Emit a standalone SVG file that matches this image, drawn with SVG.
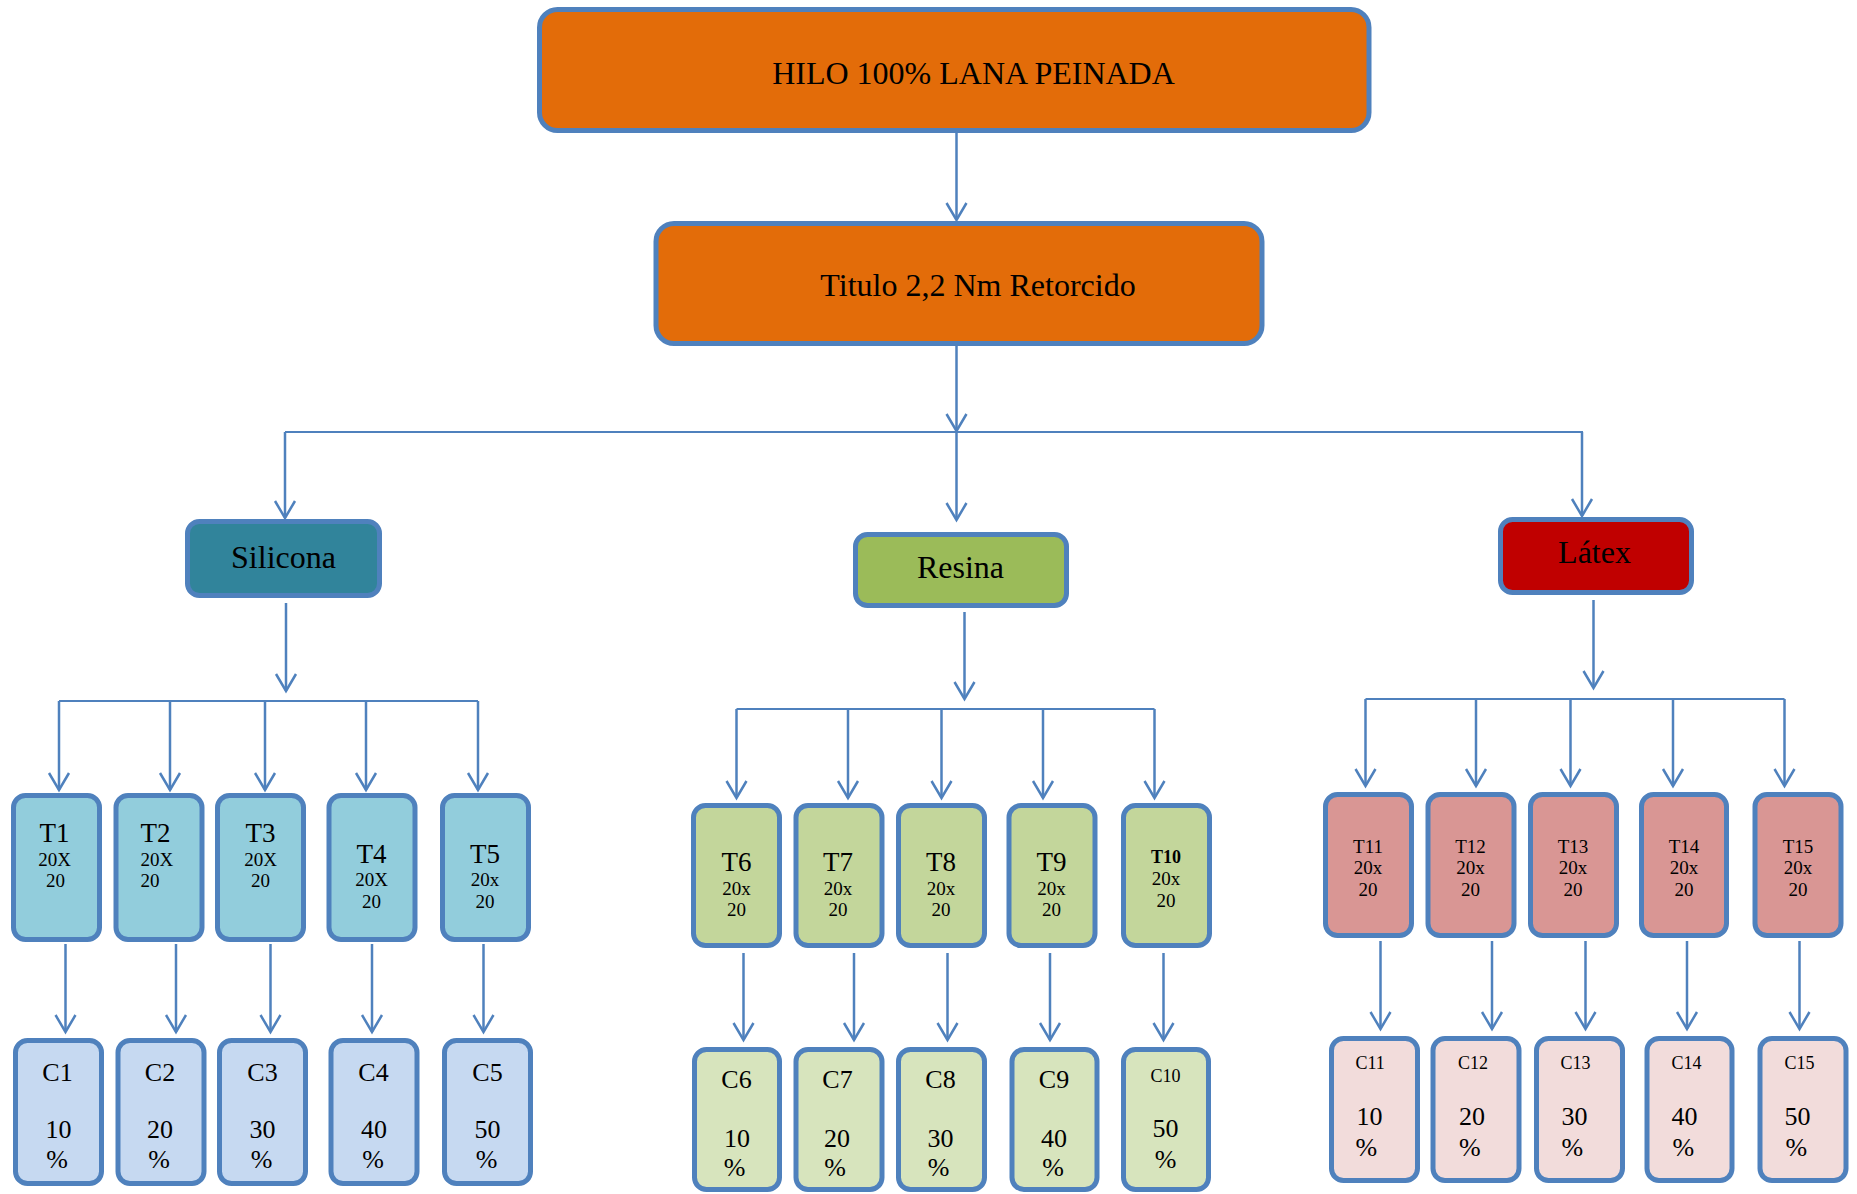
<svg xmlns="http://www.w3.org/2000/svg" width="1857" height="1194" viewBox="0 0 1857 1194">
  <style>
    .box { stroke: #4F81BD; stroke-width: 5; }
    .orange { fill: #E36C09; }
    .sil { fill: #31849B; }
    .res { fill: #9BBB59; }
    .lat { fill: #C00000; }
    .t-blue { fill: #92CDDC; }
    .c-blue { fill: #C6D9F1; }
    .t-green { fill: #C3D69B; }
    .c-green { fill: #D7E4BD; }
    .t-red { fill: #D99694; }
    .c-red { fill: #F2DCDB; }
    text { font-family: "Liberation Serif", "Times New Roman", serif; fill: #000; text-anchor: middle; }
    .big { font-size: 32px; }
    .tt { font-size: 27px; }
    .ts { font-size: 19px; }
    .cc { font-size: 26px; }
    .cs { font-size: 18px; }
    .tb { font-size: 18px; font-weight: bold; }
    .left { text-anchor: start; }
    .wire { fill: none; stroke: #4F81BD; stroke-width: 2.5; }
    .bus { fill: none; stroke: #4F81BD; stroke-width: 2; }
  </style>
  <defs>
    <marker id="vhead" markerUnits="userSpaceOnUse" markerWidth="40" markerHeight="40" refX="0" refY="0" orient="auto" overflow="visible" viewBox="-20 -20 40 40">
      <path d="M-17,-10 L0,0 L-17,10" fill="none" stroke="#4F81BD" stroke-width="2.5"/>
    </marker>
  </defs>

  <!-- connectors -->
  <g id="connectors">
    <path class="wire" d="M956.5,133 V220" marker-end="url(#vhead)"/>
    <path class="wire" d="M956.5,346 V431" marker-end="url(#vhead)"/>
    <path class="bus" d="M285,432 H1583"/>
    <path class="wire" d="M285,432 V518" marker-end="url(#vhead)"/>
    <path class="wire" d="M956.5,432 V520" marker-end="url(#vhead)"/>
    <path class="wire" d="M1582,432 V516" marker-end="url(#vhead)"/>

    <!-- Silicona branch -->
    <path class="wire" d="M286,603 V691" marker-end="url(#vhead)"/>
    <path class="bus" d="M59,701 H478"/>
    <path class="wire" d="M59,701 V790" marker-end="url(#vhead)"/>
    <path class="wire" d="M170,701 V790" marker-end="url(#vhead)"/>
    <path class="wire" d="M265,701 V790" marker-end="url(#vhead)"/>
    <path class="wire" d="M366,701 V790" marker-end="url(#vhead)"/>
    <path class="wire" d="M478,701 V790" marker-end="url(#vhead)"/>
    <path class="wire" d="M65.5,944 V1032" marker-end="url(#vhead)"/>
    <path class="wire" d="M176,944 V1032" marker-end="url(#vhead)"/>
    <path class="wire" d="M270.5,944 V1032" marker-end="url(#vhead)"/>
    <path class="wire" d="M372,944 V1032" marker-end="url(#vhead)"/>
    <path class="wire" d="M483.5,944 V1032" marker-end="url(#vhead)"/>

    <!-- Resina branch -->
    <path class="wire" d="M964.5,612 V699" marker-end="url(#vhead)"/>
    <path class="bus" d="M736.5,709 H1154.5"/>
    <path class="wire" d="M736.5,709 V798" marker-end="url(#vhead)"/>
    <path class="wire" d="M848,709 V798" marker-end="url(#vhead)"/>
    <path class="wire" d="M941.5,709 V798" marker-end="url(#vhead)"/>
    <path class="wire" d="M1043,709 V798" marker-end="url(#vhead)"/>
    <path class="wire" d="M1154.5,709 V798" marker-end="url(#vhead)"/>
    <path class="wire" d="M743.5,953 V1040" marker-end="url(#vhead)"/>
    <path class="wire" d="M854,953 V1040" marker-end="url(#vhead)"/>
    <path class="wire" d="M947.5,953 V1040" marker-end="url(#vhead)"/>
    <path class="wire" d="M1050,953 V1040" marker-end="url(#vhead)"/>
    <path class="wire" d="M1163.5,953 V1040" marker-end="url(#vhead)"/>

    <!-- Látex branch -->
    <path class="wire" d="M1593.5,600 V688" marker-end="url(#vhead)"/>
    <path class="bus" d="M1365.5,699 H1784.5"/>
    <path class="wire" d="M1365.5,699 V786" marker-end="url(#vhead)"/>
    <path class="wire" d="M1476,699 V786" marker-end="url(#vhead)"/>
    <path class="wire" d="M1570.5,699 V786" marker-end="url(#vhead)"/>
    <path class="wire" d="M1673,699 V786" marker-end="url(#vhead)"/>
    <path class="wire" d="M1784.5,699 V786" marker-end="url(#vhead)"/>
    <path class="wire" d="M1380.5,941 V1029" marker-end="url(#vhead)"/>
    <path class="wire" d="M1492,941 V1029" marker-end="url(#vhead)"/>
    <path class="wire" d="M1585.5,941 V1029" marker-end="url(#vhead)"/>
    <path class="wire" d="M1687,941 V1029" marker-end="url(#vhead)"/>
    <path class="wire" d="M1799.5,941 V1029" marker-end="url(#vhead)"/>
  </g>

  <!-- top levels -->
  <g id="hilo">
    <rect class="box orange" x="539.5" y="9.5" width="829.5" height="121" rx="18"/>
    <text class="big" x="973.5" y="84">HILO 100% LANA PEINADA</text>
  </g>
  <g id="titulo">
    <rect class="box orange" x="656" y="223.5" width="606" height="120" rx="18"/>
    <text class="big" x="978" y="296">Titulo 2,2 Nm Retorcido</text>
  </g>
  <g id="silicona">
    <rect class="box sil" x="187.5" y="521.5" width="192" height="74" rx="12"/>
    <text class="big" x="283.5" y="568">Silicona</text>
  </g>
  <g id="resina">
    <rect class="box res" x="855.5" y="534.5" width="211" height="71" rx="12"/>
    <text class="big" x="960.5" y="578">Resina</text>
  </g>
  <g id="latex">
    <rect class="box lat" x="1500.5" y="519.5" width="191" height="73" rx="12"/>
    <text class="big" x="1594.5" y="563">Látex</text>
  </g>

  <!-- Silicona treatments -->
  <g id="T1">
    <rect class="box t-blue" x="13.5" y="795.5" width="86" height="144" rx="12"/>
    <text class="tt" x="54.5" y="842">T1</text>
    <text class="ts" x="54.5" y="866">20X</text>
    <text class="ts" x="55.5" y="887">20</text>
  </g>
  <g id="T2">
    <rect class="box t-blue" x="116" y="795.5" width="86" height="144" rx="12"/>
    <text class="tt left" x="140.5" y="842">T2</text>
    <text class="ts left" x="140.5" y="866">20X</text>
    <text class="ts left" x="140.5" y="887">20</text>
  </g>
  <g id="T3">
    <rect class="box t-blue" x="217.5" y="795.5" width="86" height="144" rx="12"/>
    <text class="tt" x="260.5" y="842">T3</text>
    <text class="ts" x="260.5" y="866">20X</text>
    <text class="ts" x="260.5" y="887">20</text>
  </g>
  <g id="T4">
    <rect class="box t-blue" x="329" y="795.5" width="86" height="144" rx="12"/>
    <text class="tt" x="371.5" y="863">T4</text>
    <text class="ts" x="371.5" y="886">20X</text>
    <text class="ts" x="371.5" y="908">20</text>
  </g>
  <g id="T5">
    <rect class="box t-blue" x="442.5" y="795.5" width="86" height="144" rx="12"/>
    <text class="tt" x="485" y="863">T5</text>
    <text class="ts" x="485" y="886">20x</text>
    <text class="ts" x="485" y="908">20</text>
  </g>
  <g id="C1">
    <rect class="box c-blue" x="15.5" y="1040.5" width="86" height="143" rx="12"/>
    <text class="cc" x="57.5" y="1081">C1</text>
    <text class="cc" x="58.5" y="1138">10</text>
    <text class="cc" x="57" y="1168">%</text>
  </g>
  <g id="C2">
    <rect class="box c-blue" x="118" y="1040.5" width="86" height="143" rx="12"/>
    <text class="cc" x="160" y="1081">C2</text>
    <text class="cc" x="160" y="1138">20</text>
    <text class="cc" x="159" y="1168">%</text>
  </g>
  <g id="C3">
    <rect class="box c-blue" x="219.5" y="1040.5" width="86" height="143" rx="12"/>
    <text class="cc" x="262.5" y="1081">C3</text>
    <text class="cc" x="262.5" y="1138">30</text>
    <text class="cc" x="261.5" y="1168">%</text>
  </g>
  <g id="C4">
    <rect class="box c-blue" x="331" y="1040.5" width="86" height="143" rx="12"/>
    <text class="cc" x="373.5" y="1081">C4</text>
    <text class="cc" x="374" y="1138">40</text>
    <text class="cc" x="373" y="1168">%</text>
  </g>
  <g id="C5">
    <rect class="box c-blue" x="444.5" y="1040.5" width="86" height="143" rx="12"/>
    <text class="cc" x="487.5" y="1081">C5</text>
    <text class="cc" x="487.5" y="1138">50</text>
    <text class="cc" x="486.5" y="1168">%</text>
  </g>

  <!-- Resina treatments -->
  <g id="T6">
    <rect class="box t-green" x="693.5" y="805.5" width="86" height="140" rx="12"/>
    <text class="tt" x="736.5" y="871">T6</text>
    <text class="ts" x="736.5" y="895">20x</text>
    <text class="ts" x="736.5" y="916">20</text>
  </g>
  <g id="T7">
    <rect class="box t-green" x="796" y="805.5" width="86" height="140" rx="12"/>
    <text class="tt" x="838" y="871">T7</text>
    <text class="ts" x="838" y="895">20x</text>
    <text class="ts" x="838" y="916">20</text>
  </g>
  <g id="T8">
    <rect class="box t-green" x="898.5" y="805.5" width="86" height="140" rx="12"/>
    <text class="tt" x="941" y="871">T8</text>
    <text class="ts" x="941" y="895">20x</text>
    <text class="ts" x="941" y="916">20</text>
  </g>
  <g id="T9">
    <rect class="box t-green" x="1009" y="805.5" width="86" height="140" rx="12"/>
    <text class="tt" x="1051.5" y="871">T9</text>
    <text class="ts" x="1051.5" y="895">20x</text>
    <text class="ts" x="1051.5" y="916">20</text>
  </g>
  <g id="T10">
    <rect class="box t-green" x="1123.5" y="805.5" width="86" height="140" rx="12"/>
    <text class="tb" x="1166" y="863">T10</text>
    <text class="ts" x="1166" y="885">20x</text>
    <text class="ts" x="1166" y="907">20</text>
  </g>
  <g id="C6">
    <rect class="box c-green" x="694.5" y="1049.5" width="85" height="140" rx="12"/>
    <text class="cc" x="736.5" y="1088">C6</text>
    <text class="cc" x="737" y="1147">10</text>
    <text class="cc" x="734.5" y="1176">%</text>
  </g>
  <g id="C7">
    <rect class="box c-green" x="796" y="1049.5" width="86" height="140" rx="12"/>
    <text class="cc" x="837.5" y="1088">C7</text>
    <text class="cc" x="837" y="1147">20</text>
    <text class="cc" x="835" y="1176">%</text>
  </g>
  <g id="C8">
    <rect class="box c-green" x="898.5" y="1049.5" width="86" height="140" rx="12"/>
    <text class="cc" x="940.5" y="1088">C8</text>
    <text class="cc" x="940.5" y="1147">30</text>
    <text class="cc" x="938.5" y="1176">%</text>
  </g>
  <g id="C9">
    <rect class="box c-green" x="1012" y="1049.5" width="85" height="140" rx="12"/>
    <text class="cc" x="1054" y="1088">C9</text>
    <text class="cc" x="1054" y="1147">40</text>
    <text class="cc" x="1053" y="1176">%</text>
  </g>
  <g id="C10">
    <rect class="box c-green" x="1123.5" y="1049.5" width="85" height="140" rx="12"/>
    <text class="cs" x="1165.5" y="1082">C10</text>
    <text class="cc" x="1165.5" y="1137">50</text>
    <text class="cc" x="1165.5" y="1168">%</text>
  </g>

  <!-- Látex treatments -->
  <g id="T11">
    <rect class="box t-red" x="1325.5" y="794.5" width="86" height="141" rx="12"/>
    <text class="ts" x="1368" y="853">T11</text>
    <text class="ts" x="1368" y="874">20x</text>
    <text class="ts" x="1368" y="896">20</text>
  </g>
  <g id="T12">
    <rect class="box t-red" x="1428" y="794.5" width="86" height="141" rx="12"/>
    <text class="ts" x="1470.5" y="853">T12</text>
    <text class="ts" x="1470.5" y="874">20x</text>
    <text class="ts" x="1470.5" y="896">20</text>
  </g>
  <g id="T13">
    <rect class="box t-red" x="1530.5" y="794.5" width="86" height="141" rx="12"/>
    <text class="ts" x="1573" y="853">T13</text>
    <text class="ts" x="1573" y="874">20x</text>
    <text class="ts" x="1573" y="896">20</text>
  </g>
  <g id="T14">
    <rect class="box t-red" x="1641.5" y="794.5" width="85" height="141" rx="12"/>
    <text class="ts" x="1684" y="853">T14</text>
    <text class="ts" x="1684" y="874">20x</text>
    <text class="ts" x="1684" y="896">20</text>
  </g>
  <g id="T15">
    <rect class="box t-red" x="1755" y="794.5" width="86" height="141" rx="12"/>
    <text class="ts" x="1798" y="853">T15</text>
    <text class="ts" x="1798" y="874">20x</text>
    <text class="ts" x="1798" y="896">20</text>
  </g>
  <g id="C11">
    <rect class="box c-red" x="1331.5" y="1038.5" width="86" height="142" rx="12"/>
    <text class="cs left" x="1355.5" y="1069">C11</text>
    <text class="cc left" x="1356.5" y="1125">10</text>
    <text class="cc left" x="1355.5" y="1156">%</text>
  </g>
  <g id="C12">
    <rect class="box c-red" x="1433" y="1038.5" width="86" height="142" rx="12"/>
    <text class="cs left" x="1458" y="1069">C12</text>
    <text class="cc left" x="1459" y="1125">20</text>
    <text class="cc left" x="1459" y="1156">%</text>
  </g>
  <g id="C13">
    <rect class="box c-red" x="1536.5" y="1038.5" width="86" height="142" rx="12"/>
    <text class="cs left" x="1560.5" y="1069">C13</text>
    <text class="cc left" x="1561.5" y="1125">30</text>
    <text class="cc left" x="1561.5" y="1156">%</text>
  </g>
  <g id="C14">
    <rect class="box c-red" x="1647" y="1038.5" width="85" height="142" rx="12"/>
    <text class="cs left" x="1671.5" y="1069">C14</text>
    <text class="cc left" x="1671.5" y="1125">40</text>
    <text class="cc left" x="1672.5" y="1156">%</text>
  </g>
  <g id="C15">
    <rect class="box c-red" x="1760" y="1038.5" width="86" height="142" rx="12"/>
    <text class="cs left" x="1784.5" y="1069">C15</text>
    <text class="cc left" x="1784.5" y="1125">50</text>
    <text class="cc left" x="1785.5" y="1156">%</text>
  </g>
</svg>
